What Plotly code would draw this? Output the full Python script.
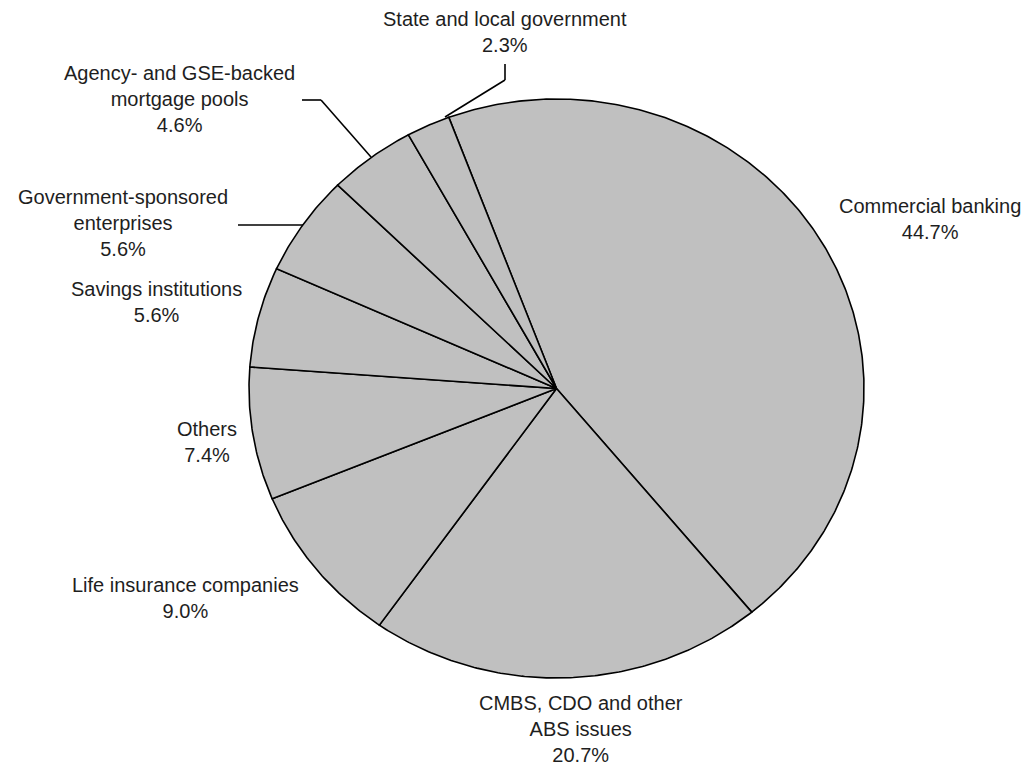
import numpy as np
import plotly.graph_objects as go

# ---- data ----
categories = [
    "Commercial banking",
    "CMBS, CDO and other ABS issues",
    "Life insurance companies",
    "Others",
    "Savings institutions",
    "Government-sponsored enterprises",
    "Agency- and GSE-backed mortgage pools",
    "State and local government",
]
shares = [44.7, 20.7, 9.0, 7.4, 5.6, 5.6, 4.6, 2.3]
label_text = [
    "Commercial banking",
    "CMBS, CDO and other<br>ABS issues",
    "Life insurance companies",
    "Others",
    "Savings institutions",
    "Government-sponsored<br>enterprises",
    "Agency- and GSE-backed<br>mortgage pools",
    "State and local government",
]

# ---- layout constants ----
W, H = 1031, 766
CX, CY = 556.5, 388.5      # pie centre (px)
RX, RY = 307.5, 289.5      # pie radii (px)
START_DEG = -20.5          # first slice starts here, clockwise from 12 o'clock
FILL = "#c0c0c0"
FONT = dict(family="Liberation Sans, Arial, sans-serif", size=20, color="#1e1e1e")

fig = go.Figure()

total = sum(shares)
cum = START_DEG
for cat, v in zip(categories, shares):
    sweep = v / total * 360.0
    angs = np.radians(np.linspace(cum, cum + sweep, max(int(sweep * 2), 4)))
    xs = np.concatenate([[0], np.sin(angs), [0]])
    ys = np.concatenate([[0], np.cos(angs), [0]])
    fig.add_trace(go.Scatter(
        x=xs, y=ys, mode="lines", fill="toself", fillcolor=FILL,
        line=dict(color="black", width=1.6), name=cat,
        hoverinfo="name", showlegend=False,
    ))
    cum += sweep

# axes scaled so unit circle maps onto the (slightly elliptical) pie
xr = [(0 - CX) / RX, (W - CX) / RX]
yr = [(CY - H) / RY, (CY - 0) / RY]

def px(x, y):
    return x / W, 1 - y / H

# label anchor positions (px)
label_pos = [(930, 219), (581, 729), (185, 598), (207, 442),
             (156, 302), (123, 223), (179, 99), (505, 32)]

annotations = []
for txt, v, (lx, ly) in zip(label_text, shares, label_pos):
    ax_, ay_ = px(lx, ly)
    annotations.append(dict(
        x=ax_, y=ay_, xref="paper", yref="paper", showarrow=False,
        text=f"{txt}<br>{v:.1f}%", align="center",
        xanchor="center", yanchor="middle", font=FONT,
    ))

leaders = [
    [(505, 64), (505, 80), (445, 117)],
    [(302, 100), (321, 100), (371, 157)],
    [(238, 225), (303, 225)],
]
shapes = []
for pts in leaders:
    for (x0, y0), (x1, y1) in zip(pts[:-1], pts[1:]):
        a0, b0 = px(x0, y0)
        a1, b1 = px(x1, y1)
        shapes.append(dict(type="line", xref="paper", yref="paper",
                           x0=a0, y0=b0, x1=a1, y1=b1,
                           line=dict(color="black", width=1.6)))

fig.update_layout(
    width=W, height=H, autosize=False,
    margin=dict(l=0, r=0, t=0, b=0),
    paper_bgcolor="white", plot_bgcolor="white",
    xaxis=dict(range=xr, visible=False, fixedrange=True),
    yaxis=dict(range=yr, visible=False, fixedrange=True),
    annotations=annotations, shapes=shapes,
    showlegend=False,
)

fig.write_html("out.html", config={"displayModeBar": False},
               post_script="document.body.style.margin='0';")
